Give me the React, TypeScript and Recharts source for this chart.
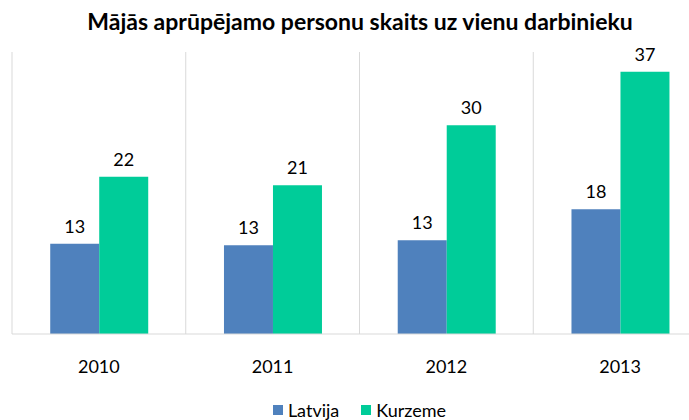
import React from 'react';
import { BarChart, Bar, XAxis, YAxis, CartesianGrid, Legend, LabelList } from 'recharts';

const years = ['2010', '2011', '2012', '2013'];
const latvija = [12.8, 12.6, 13.3, 17.7];
const kurzeme = [22.3, 21.1, 29.6, 37.2];
const seriesNames = ['Latvija', 'Kurzeme'];
const seriesColors = ['#4F81BD', '#00CC99'];

const data = years.map((year, i) => ({ year, Latvija: latvija[i], Kurzeme: kurzeme[i] }));

const FONT = 'Lato, "Open Sans", sans-serif';
const CHART_W = 720;
const CHART_H = 420;

const round = (v: any) => Math.round(Number(v));

// keep the series order (Recharts sorts legend items by name otherwise)
const renderLegend = () => (
  <div style={{ display: 'flex', justifyContent: 'center', alignItems: 'center', fontFamily: FONT, fontSize: 18, color: '#000', lineHeight: '20px' }}>
    {seriesNames.map((name, i) => (
      <span key={name} style={{ display: 'inline-flex', alignItems: 'center', marginRight: i === 0 ? 22 : 0 }}>
        <span style={{ display: 'inline-block', width: 10, height: 10, background: seriesColors[i], marginRight: 5 }} />
        {name}
      </span>
    ))}
  </div>
);

export default function App() {
  return (
    <div style={{ position: 'absolute', left: 0, top: 0, width: 689, height: 420, overflow: 'hidden', background: '#fff', fontFamily: FONT }}>
      <div style={{ position: 'absolute', left: 0, top: 7, width: CHART_W, textAlign: 'center', fontWeight: 700, fontSize: 23, color: '#000' }}>
        Mājās aprūpējamo personu skaits uz vienu darbinieku
      </div>
      <BarChart
        width={CHART_W}
        height={CHART_H}
        data={data}
        margin={{ top: 52, right: 13, left: 12, bottom: 0 }}
        barCategoryGap="22%"
        barGap={0}
      >
        <CartesianGrid
          horizontal={false}
          stroke="#d9d9d9"
          verticalCoordinatesGenerator={({ offset }: any) =>
            [0, 1, 2, 3, 4].map((i) => offset.left + (i * offset.width) / years.length)
          }
        />
        <XAxis
          dataKey="year"
          height={66}
          tickLine={false}
          axisLine={{ stroke: '#d9d9d9' }}
          tickMargin={20}
          tick={{ fill: '#000', fontSize: 18, fontFamily: FONT }}
        />
        <YAxis hide domain={[0, 40]} />
        <Legend verticalAlign="bottom" height={20} content={renderLegend} />
        <Bar dataKey="Latvija" fill={seriesColors[0]} isAnimationActive={false}>
          <LabelList dataKey="Latvija" position="top" offset={11} formatter={round} fill="#000" fontSize={18} fontFamily={FONT} />
        </Bar>
        <Bar dataKey="Kurzeme" fill={seriesColors[1]} isAnimationActive={false}>
          <LabelList dataKey="Kurzeme" position="top" offset={11} formatter={round} fill="#000" fontSize={18} fontFamily={FONT} />
        </Bar>
      </BarChart>
    </div>
  );
}
